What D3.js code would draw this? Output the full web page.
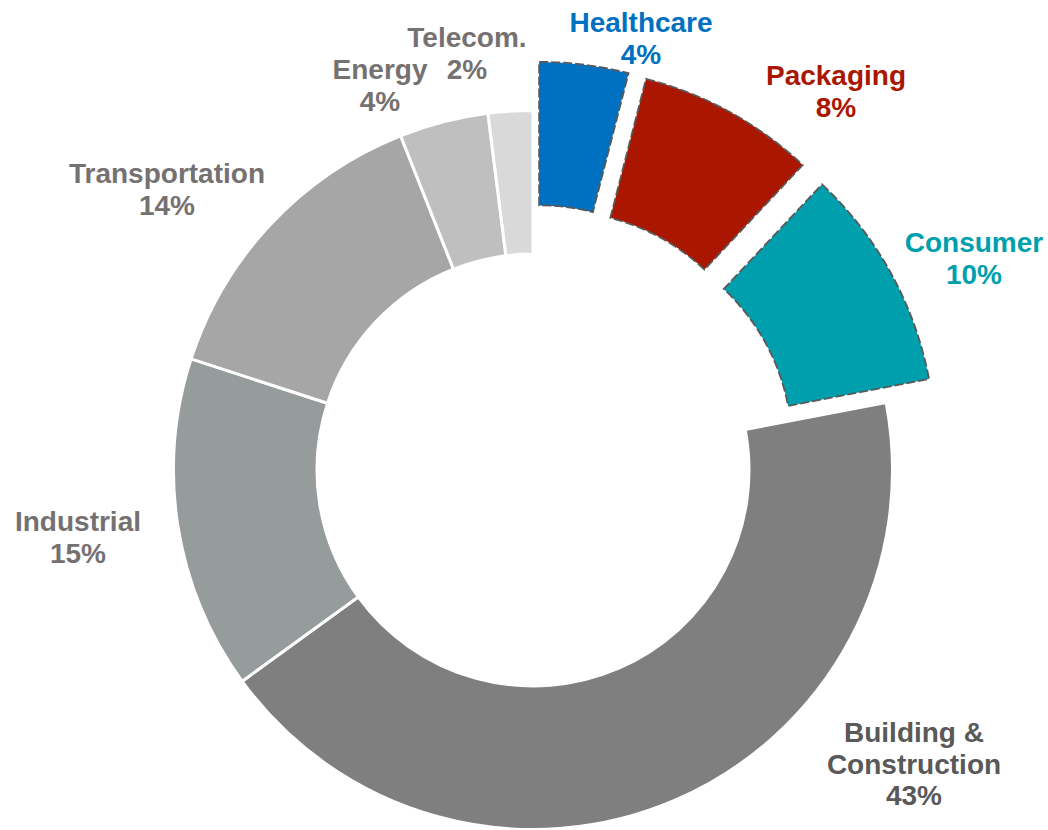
<!DOCTYPE html>
<html>
<head>
<meta charset="utf-8">
<script src="https://cdn.jsdelivr.net/npm/d3@7"></script>
<style>
  html, body { margin: 0; padding: 0; background: #ffffff; }
  svg { display: block; }
  text { font-family: Arial, "Liberation Sans", sans-serif; font-weight: bold; }
</style>
</head>
<body>
<svg id="chart" width="1048" height="830"></svg>
<script>
// Market share by end-use segment (clockwise from 12 o'clock)
const categories = ["Healthcare", "Packaging", "Consumer", "Building & Construction",
                    "Industrial", "Transportation", "Energy", "Telecom."];
const shares = [4, 8, 10, 43, 15, 14, 4, 2];
// Label text lines for each segment (name lines; the percentage is appended)
const labelLines = [["Healthcare"], ["Packaging"], ["Consumer"], ["Building &", "Construction"],
                    ["Industrial"], ["Transportation"], ["Energy"], ["Telecom."]];

// Styling
const fills = {
  "Healthcare": "#0070C0",
  "Packaging": "#AA1600",
  "Consumer": "#009FAE",
  "Building & Construction": "#7F7F7F",
  "Industrial": "#969B9B",
  "Transportation": "#A6A6A6",
  "Energy": "#BFBFBF",
  "Telecom.": "#D9D9D9"
};
const labelColors = {
  "Healthcare": "#0070C0",
  "Packaging": "#AA1600",
  "Consumer": "#009FAE",
  "Building & Construction": "#595959",
  "Industrial": "#767171",
  "Transportation": "#767171",
  "Energy": "#767171",
  "Telecom.": "#767171"
};
// Segments pulled out of the ring
const highlighted = new Set(["Healthcare", "Packaging", "Consumer"]);
// Label anchor points (centre x, first baseline y)
const labelAnchors = {
  "Healthcare": [641, 32],
  "Packaging": [836, 85],
  "Consumer": [974, 252],
  "Building & Construction": [914, 742],
  "Industrial": [78, 531],
  "Transportation": [167, 183],
  "Energy": [380, 79],
  "Telecom.": [467, 47]
};

const cx = 533, cy = 470;
const outerR = 359.5, innerR = 216, explode = 49;
const lineH = 31.5;

const data = categories.map((c, i) => ({ name: c, share: shares[i], lines: labelLines[i] }));

const svg = d3.select("#chart");
const g = svg.append("g").attr("transform", `translate(${cx},${cy})`);

const pie = d3.pie().sort(null).value(d => d.share);
const arc = d3.arc().innerRadius(innerR).outerRadius(outerR);
const arcs = pie(data);

// Ring segments
g.selectAll("path.seg")
  .data(arcs)
  .join("path")
  .attr("class", "seg")
  .attr("d", arc)
  .attr("fill", d => fills[d.data.name])
  .attr("transform", d => {
    if (!highlighted.has(d.data.name)) return null;
    const mid = (d.startAngle + d.endAngle) / 2;
    return `translate(${Math.sin(mid) * explode},${-Math.cos(mid) * explode})`;
  })
  .attr("stroke", d => highlighted.has(d.data.name) ? "#595959" : "#ffffff")
  .attr("stroke-width", d => highlighted.has(d.data.name) ? 1.8 : 3)
  .attr("stroke-dasharray", d => highlighted.has(d.data.name) ? "9,3" : null)
  .attr("stroke-linejoin", "miter");

// Labels
const labels = svg.selectAll("text.lbl")
  .data(data)
  .join("text")
  .attr("class", "lbl")
  .attr("text-anchor", "middle")
  .attr("font-size", 28)
  .attr("fill", d => labelColors[d.name]);

labels.each(function(d) {
  const [x, y] = labelAnchors[d.name];
  const t = d3.select(this);
  const all = d.lines.concat([d.share + "%"]);
  all.forEach((ln, i) => {
    t.append("tspan").attr("x", x).attr("y", y + i * lineH).text(ln);
  });
});
</script>
</body>
</html>
